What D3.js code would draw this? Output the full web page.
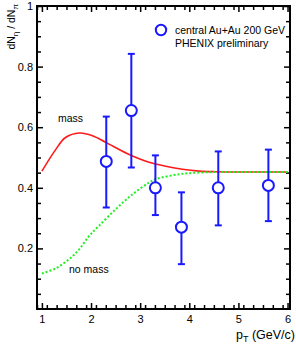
<!DOCTYPE html>
<html><head><meta charset="utf-8">
<script src="https://cdn.jsdelivr.net/npm/d3@7"></script>
<style>body{margin:0;background:#fff}svg{display:block}text{font-family:"Liberation Sans",Arial,sans-serif;fill:#000}</style>
</head><body>
<script>
// Data
const ptValues = [2.31, 2.82, 3.31, 3.84, 4.59, 5.61];
const ratioValues = [0.487, 0.655, 0.40, 0.27, 0.40, 0.408];
const errUpper = [0.635, 0.842, 0.507, 0.385, 0.52, 0.526];
const errLower = [0.335, 0.467, 0.31, 0.148, 0.276, 0.29];
const massPt = [1.0, 1.28, 1.48, 1.76, 2.03, 2.30, 2.71, 2.98, 3.18, 3.52, 3.86, 4.2, 4.54, 5.0, 5.5, 6.0];
const massVal = [0.455, 0.526, 0.566, 0.581, 0.572, 0.550, 0.515, 0.496, 0.484, 0.471, 0.461, 0.455, 0.453, 0.452, 0.452, 0.452];
const noMassPt = [1.0, 1.28, 1.55, 1.76, 1.96, 2.16, 2.50, 2.84, 3.18, 3.31, 3.86, 4.54, 5.0, 5.5, 6.0];
const noMassVal = [0.117, 0.134, 0.164, 0.197, 0.241, 0.274, 0.329, 0.378, 0.417, 0.428, 0.446, 0.452, 0.452, 0.452, 0.452];
const xTicks = [1, 2, 3, 4, 5, 6];
const yTicks = [0.2, 0.4, 0.6, 0.8, 1];
const yTickLabels = ["0.2", "0.4", "0.6", "0.8", "1"];

const W = 296, H = 347;
const svg = d3.select("body").append("svg").attr("width", W).attr("height", H);
const x = d3.scaleLinear().domain([0.9, 6.05]).range([37, 290]);
const y = d3.scaleLinear().domain([0, 1]).range([309, 6]);

const blue = "#1919ff";

const xMinor = d3.range(0.9, 6.05, 0.2).map(v => +v.toFixed(2)).filter(v => !xTicks.includes(v));
const yMinor = d3.range(0.05, 1.0, 0.05).map(v => +v.toFixed(2)).filter(v => !yTicks.some(t => Math.abs(t - v) < 1e-6));

function styleAxis(g) {
  g.select(".domain").remove();
  g.selectAll("line").attr("stroke", "#000").attr("stroke-width", 1.5);
  g.selectAll("text").style("font-size", "11px").attr("fill", "#000");
}
// bottom
svg.append("g").attr("transform", `translate(0,${y(0)})`)
  .call(d3.axisBottom(x).tickValues(xTicks).tickFormat(d3.format("d")).tickSizeInner(-6).tickPadding(6).tickSizeOuter(0))
  .call(styleAxis);
svg.append("g").attr("transform", `translate(0,${y(0)})`)
  .call(d3.axisBottom(x).tickValues(xMinor).tickFormat("").tickSizeInner(-4).tickSizeOuter(0))
  .call(styleAxis);
// top
svg.append("g").attr("transform", `translate(0,${y(1)})`)
  .call(d3.axisTop(x).tickValues(xTicks).tickFormat("").tickSizeInner(-6).tickSizeOuter(0))
  .call(styleAxis);
svg.append("g").attr("transform", `translate(0,${y(1)})`)
  .call(d3.axisTop(x).tickValues(xMinor).tickFormat("").tickSizeInner(-4).tickSizeOuter(0))
  .call(styleAxis);
// left
svg.append("g").attr("transform", `translate(${x(0.9)},0)`)
  .call(d3.axisLeft(y).tickValues(yTicks).tickFormat((d, i) => yTickLabels[i]).tickSizeInner(-6).tickPadding(4).tickSizeOuter(0))
  .call(styleAxis);
svg.append("g").attr("transform", `translate(${x(0.9)},0)`)
  .call(d3.axisLeft(y).tickValues(yMinor).tickFormat("").tickSizeInner(-4).tickSizeOuter(0))
  .call(styleAxis);
// right
svg.append("g").attr("transform", `translate(${x(6.05)},0)`)
  .call(d3.axisRight(y).tickValues(yTicks).tickFormat("").tickSizeInner(-6).tickSizeOuter(0))
  .call(styleAxis);
svg.append("g").attr("transform", `translate(${x(6.05)},0)`)
  .call(d3.axisRight(y).tickValues(yMinor).tickFormat("").tickSizeInner(-4).tickSizeOuter(0))
  .call(styleAxis);

// frame
svg.append("rect").attr("x", x(0.9)).attr("y", y(1)).attr("width", x(6.05) - x(0.9)).attr("height", y(0) - y(1))
  .attr("fill", "none").attr("stroke", "#000").attr("stroke-width", 2);

// curves
const line = d3.line().x(d => x(d[0])).y(d => y(d[1])).curve(d3.curveCatmullRom);
svg.append("path").datum(massPt.map((p, i) => [p, massVal[i]]))
  .attr("d", line).attr("fill", "none").attr("stroke", "#ff1a1a").attr("stroke-width", 1.6);
svg.append("path").datum(noMassPt.map((p, i) => [p, noMassVal[i]]))
  .attr("d", line).attr("fill", "none").attr("stroke", "#22ee22").attr("stroke-width", 2).attr("stroke-dasharray", "2,2");

// error bars
const pts = ptValues.map((p, i) => ({p, v: ratioValues[i], hi: errUpper[i], lo: errLower[i]}));
const eg = svg.append("g").attr("stroke", blue).attr("stroke-width", 2);
eg.selectAll(".ev").data(pts).join("line").attr("x1", d => x(d.p)).attr("x2", d => x(d.p)).attr("y1", d => y(d.hi)).attr("y2", d => y(d.lo));
eg.selectAll(".ct").data(pts).join("line").attr("x1", d => x(d.p) - 3.5).attr("x2", d => x(d.p) + 3.5).attr("y1", d => y(d.hi)).attr("y2", d => y(d.hi));
eg.selectAll(".cb").data(pts).join("line").attr("x1", d => x(d.p) - 3.5).attr("x2", d => x(d.p) + 3.5).attr("y1", d => y(d.lo)).attr("y2", d => y(d.lo));
svg.append("g").selectAll("circle").data(pts).join("circle")
  .attr("cx", d => x(d.p)).attr("cy", d => y(d.v)).attr("r", 5.5)
  .attr("fill", "#fff").attr("stroke", blue).attr("stroke-width", 2);

// legend
svg.append("circle").attr("cx", 161).attr("cy", 30).attr("r", 5.2).attr("fill", "#fff").attr("stroke", blue).attr("stroke-width", 2);
svg.append("text").attr("x", 175).attr("y", 34).style("font-size", "10.5px").text("central Au+Au 200 GeV");
svg.append("text").attr("x", 175).attr("y", 47).style("font-size", "10.5px").text("PHENIX preliminary");

// curve labels
svg.append("text").attr("x", 58).attr("y", 122).style("font-size", "10.5px").text("mass");
svg.append("text").attr("x", 69).attr("y", 273).style("font-size", "10.5px").text("no mass");

// axis titles
const xl = svg.append("text").attr("x", 295).attr("y", 339).attr("text-anchor", "end").style("font-size", "12.5px");
xl.append("tspan").text("p");
xl.append("tspan").attr("dy", 3).style("font-size", "9px").text("T");
xl.append("tspan").attr("dy", -3).text(" (GeV/c)");

const yl = svg.append("text").attr("transform", "translate(15,4) rotate(-90)").attr("text-anchor", "end").style("font-size", "10.5px");
yl.append("tspan").text("dN");
yl.append("tspan").attr("dy", 3).style("font-size", "8px").text("η");
yl.append("tspan").attr("dy", -3).text(" / dN");
yl.append("tspan").attr("dy", 3).style("font-size", "8px").text("π");
</script>
</body></html>
